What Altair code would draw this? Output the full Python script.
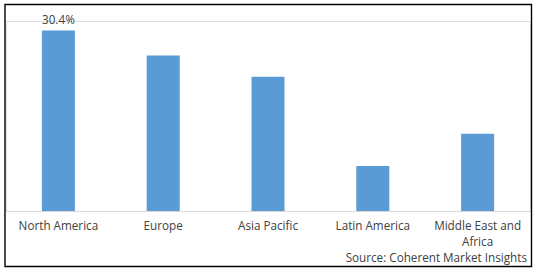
import altair as alt
import pandas as pd

regions = ["North America", "Europe", "Asia Pacific", "Latin America", "Middle East and Africa"]
shares = [30.4, 26.2, 22.6, 7.6, 13.0]
labels = ["30.4%", "", "", "", ""]

df = pd.DataFrame({"region": regions, "share": shares, "label": labels})

FONT = "Open Sans"
TXT = "#404040"
FS = 11.7

x_enc = alt.X(
    "region:N",
    sort=regions,
    scale=alt.Scale(paddingInner=0.685, paddingOuter=0.3425),
    axis=alt.Axis(
        title=None,
        labelAngle=0,
        ticks=False,
        domainColor="#d9d9d9",
        domainWidth=1,
        labelFont=FONT,
        labelFontSize=FS,
        labelColor=TXT,
        labelPadding=9,
        labelLineHeight=16,
        labelExpr="datum.value == 'Middle East and Africa' ? ['Middle East and', 'Africa'] : datum.value",
    ),
)
y_enc = alt.Y(
    "share:Q",
    scale=alt.Scale(domain=[0, 32], nice=False, zero=True),
    axis=None,
)

bars = alt.Chart(df).mark_bar(color="#5B9BD5").encode(x=x_enc, y=y_enc)

text = alt.Chart(df).transform_filter("datum.label != ''").mark_text(
    font=FONT, fontSize=FS, color=TXT, baseline="alphabetic", dy=-7
).encode(x=alt.X("region:N", sort=regions), y="share:Q", text="label:N")

frame = alt.Chart(df).transform_filter("datum.label != ''").mark_rect(
    fill=None, stroke="#000000", strokeWidth=1.4
).encode(x=alt.value(-1), x2=alt.value(525.5), y=alt.value(-16.5), y2=alt.value(245.5))

source = alt.Chart(df).transform_filter("datum.label != ''").mark_text(
    font=FONT, fontSize=FS, color=TXT, align="right", baseline="alphabetic"
).encode(x=alt.value(521), y=alt.value(241), text=alt.value("Source: Coherent Market Insights"))

chart = alt.layer(frame, bars, text, source).properties(
    width=524,
    height=190,
    autosize=alt.AutoSizeParams(type="none"),
    padding={"left": 6, "top": 21, "right": 8, "bottom": 61},
).configure_view(stroke=None).configure(background="white")

chart.save("out.html", embed_options={"renderer": "svg", "actions": False})
